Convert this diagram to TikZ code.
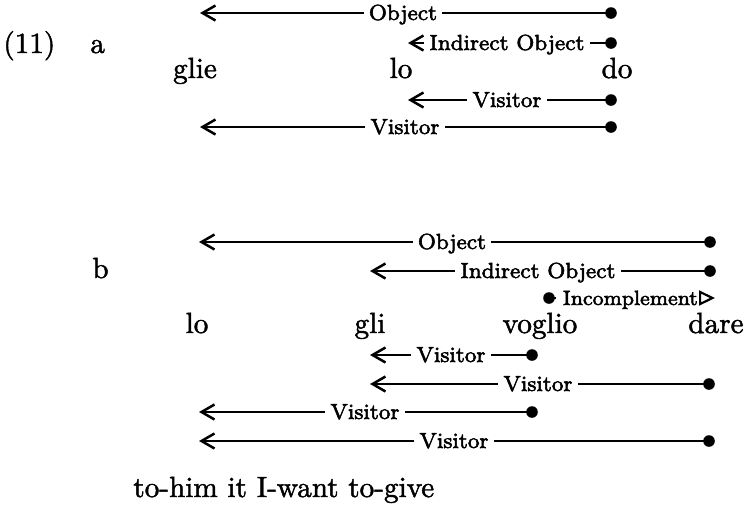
\documentclass[tikz,border=0pt]{standalone}
\usetikzlibrary{arrows.meta}
\font\wordfont="[lmroman10-regular.otf]:embolden=1.6" at 14.6pt
\font\labfont="[lmroman8-regular.otf]:embolden=2.4" at 10.9pt
\font\labfontsm="[lmroman8-regular.otf]:embolden=2.4" at 10.3pt
\begin{document}
\begin{tikzpicture}[x=0.5pt,y=-0.5pt,
  conn/.style={line width=1.25pt,-{Straight Barb[length=6.5pt,width=7.5pt,line width=1.25pt]}},
  incconn/.style={line width=1.2pt,-{Triangle[open,length=8pt,width=7.5pt,line width=1.1pt]}},
  dotnode/.style={circle,fill=black,inner sep=0pt,minimum size=5.8pt},
  lab/.style={fill=white,inner xsep=2.6pt,inner ysep=0.6pt,anchor=base,font=\labfont},
  word/.style={inner sep=0pt,anchor=base,font=\wordfont},
  lword/.style={inner sep=0pt,anchor=base west,font=\wordfont}]
\useasboundingbox[fill=white] (0,0) rectangle (746,505);

% ---------- (11) a ----------
\node[lword] (num) at (3,53) {(11)};
\node[lword] (la) at (90,53) {a};

\node[word] (glie) at (195,78) {glie};
\node[word] (loa) at (401,78) {lo};
\node[word] (do) at (617,78) {do};

\node[dotnode] (da1) at (611,13) {};
\coordinate (ta1) at (200,13);
\node[dotnode] (da2) at (611,43) {};
\coordinate (ta2) at (408,43);
\node[dotnode] (da3) at (611,100) {};
\coordinate (ta3) at (408,100);
\node[dotnode] (da4) at (611,127) {};
\coordinate (ta4) at (200,127);

\draw[conn] (da1.center) -- (ta1);
\draw[conn] (da2.center) -- (ta2);
\draw[conn] (da3.center) -- (ta3);
\draw[conn] (da4.center) -- (ta4);

\node[lab] (la1) at (403,20) {Object};
\node[lab] (la2) at (507,50) {Indirect Object};
\node[lab] (la3) at (507,107) {Visitor};
\node[lab] (la4) at (405,134) {Visitor};

% ---------- b ----------
\node[lword] (lb) at (92,278) {b};

\node[word] (lob) at (197,333) {lo};
\node[word] (gli) at (370,333) {gli};
\node[word] (voglio) at (540,333) {voglio};
\node[word] (dare) at (716,333) {dare};

\node[dotnode] (db1) at (710,242) {};
\coordinate (tb1) at (199,242);
\node[dotnode] (db2) at (710,271) {};
\coordinate (tb2) at (370,271);
\node[dotnode] (db3) at (549,298) {};
\coordinate (tb3) at (715,298);
\node[dotnode] (db4) at (532,355) {};
\coordinate (tb4) at (370,355);
\node[dotnode] (db5) at (709,384) {};
\coordinate (tb5) at (370,384);
\node[dotnode] (db6) at (532,412) {};
\coordinate (tb6) at (199,412);
\node[dotnode] (db7) at (709,441) {};
\coordinate (tb7) at (199,441);

\draw[conn] (db1.center) -- (tb1);
\draw[conn] (db2.center) -- (tb2);
\draw[incconn] (db3.center) -- (tb3);
\draw[conn] (db4.center) -- (tb4);
\draw[conn] (db5.center) -- (tb5);
\draw[conn] (db6.center) -- (tb6);
\draw[conn] (db7.center) -- (tb7);

\node[lab] (lb1) at (452,249) {Object};
\node[lab] (lb2) at (538,278) {Indirect Object};
\node[lab,anchor=base east,inner xsep=0.4pt,font=\labfontsm] (lb3) at (699,305) {\kern3pt Incomplement};
\node[lab] (lb4) at (451,362) {Visitor};
\node[lab] (lb5) at (538,391) {Visitor};
\node[lab] (lb6) at (365,419) {Visitor};
\node[lab] (lb7) at (454,448) {Visitor};

\node[lword] (gloss) at (133,497) {to-him it I-want to-give};
\end{tikzpicture}
\end{document}
